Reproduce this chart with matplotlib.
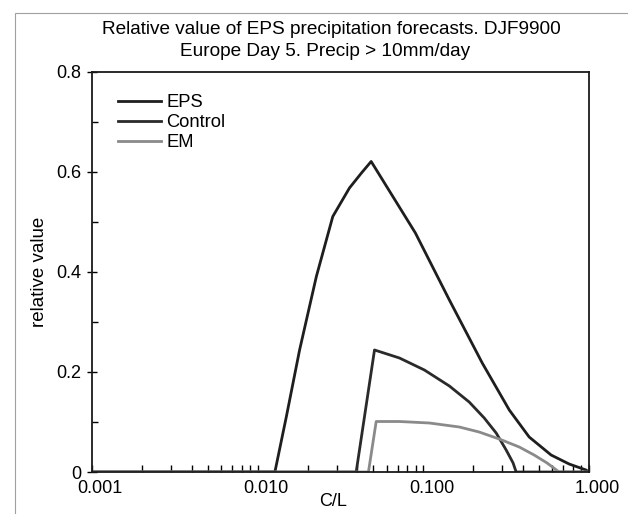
import numpy as np
import matplotlib
matplotlib.use('Agg')
import matplotlib.pyplot as plt
import matplotlib.ticker as ticker
import matplotlib.transforms as mtransforms
from matplotlib.patches import Rectangle

plt.rcParams['font.family'] = ['Liberation Sans', 'DejaVu Sans']

# values
eps_cl = [0.001, 0.0127, 0.0149, 0.0179, 0.0226, 0.0284, 0.0358, 0.0423, 0.0484,
          0.0895, 0.1435, 0.2266, 0.330, 0.435, 0.590, 0.758, 0.959, 1.0]
eps_val = [0.0, 0.0, 0.111, 0.244, 0.391, 0.511, 0.568, 0.598, 0.621,
           0.478, 0.344, 0.218, 0.124, 0.070, 0.034, 0.016, 0.004, 0.0]

ctrl_cl = [0.001, 0.0393, 0.0507, 0.0717, 0.1014, 0.1435, 0.189, 0.233,
           0.275, 0.316, 0.348, 0.363, 1.0]
ctrl_val = [0.0, 0.0, 0.244, 0.228, 0.204, 0.172, 0.140, 0.108,
            0.078, 0.044, 0.018, 0.0, 0.0]

em_cl = [0.001, 0.0466, 0.0519, 0.0717, 0.1087, 0.1648, 0.217, 0.287,
         0.379, 0.466, 0.558, 0.624, 0.659, 1.0]
em_val = [0.0, 0.0, 0.101, 0.101, 0.098, 0.090, 0.080, 0.066,
          0.050, 0.034, 0.018, 0.006, 0.0, 0.0]

xticks = [0.001, 0.01, 0.1, 1.0]
xtick_labels = ['0.001', '0.010', '0.100', '1.000']
yticks = [0, 0.2, 0.4, 0.6, 0.8]
ytick_labels = ['0', '0.2', '0.4', '0.6', '0.8']

fig = plt.figure(figsize=(6.28, 5.14), dpi=100)
ax = fig.add_axes([0.1465, 0.0817, 0.938 - 0.1465, 0.860 - 0.0817])

# scanned page frame
fig.patches.append(Rectangle((15 / 628, -0.1), 1.2, (514 - 13) / 514 + 0.1,
                             transform=fig.transFigure, fill=False,
                             edgecolor='#a0a0a0', linewidth=0.8))

ax.plot(eps_cl, eps_val, color='#1e1e1e', lw=2.0, label='EPS')
ax.plot(ctrl_cl, ctrl_val, color='#2a2a2a', lw=2.0, label='Control')
ax.plot(em_cl, em_val, color='#8a8a8a', lw=2.0, label='EM')

ax.set_xscale('log')
ax.set_xlim(0.001, 1.0)
ax.set_ylim(0, 0.8)
ax.set_xticks(xticks)
ax.set_xticklabels(xtick_labels)
ax.xaxis.set_minor_locator(ticker.LogLocator(base=10, subs=np.arange(2, 10)))
ax.xaxis.set_minor_formatter(ticker.NullFormatter())
ax.set_yticks(yticks)
ax.set_yticklabels(ytick_labels)
ax.yaxis.set_minor_locator(ticker.MultipleLocator(0.1))

ax.tick_params(axis='x', which='both', direction='in', length=5, width=1,
               labelsize=13, pad=6, top=False)
ax.tick_params(axis='y', which='major', direction='inout', length=7, width=1,
               labelsize=13, pad=4, right=False)
ax.tick_params(axis='y', which='minor', direction='in', length=4, width=1, right=False)

# tick labels in the scan sit a bit right of their ticks
offset = mtransforms.ScaledTranslation(0.08, 0, fig.dpi_scale_trans)
for lab in ax.get_xticklabels():
    lab.set_transform(lab.get_transform() + offset)

for sp in ax.spines.values():
    sp.set_linewidth(1.3)
    sp.set_color('#1a1a1a')

ax.set_xlabel('C/L', fontsize=13)
ax.xaxis.set_label_coords(0.485, -0.052)
ax.set_ylabel('relative value', fontsize=13.5, labelpad=6)

fig.text(0.527, 0.942, 'Relative value of EPS precipitation forecasts. DJF9900',
         ha='center', va='center', fontsize=13.7)
fig.text(0.518, 0.899, 'Europe Day 5. Precip > 10mm/day',
         ha='center', va='center', fontsize=13.7)

leg = ax.legend(loc='upper left', frameon=False, fontsize=13.2,
                handlelength=2.3, handletextpad=0.3, labelspacing=0.15,
                bbox_to_anchor=(0.02, 0.985))

fig.savefig('out.png', dpi=100)
